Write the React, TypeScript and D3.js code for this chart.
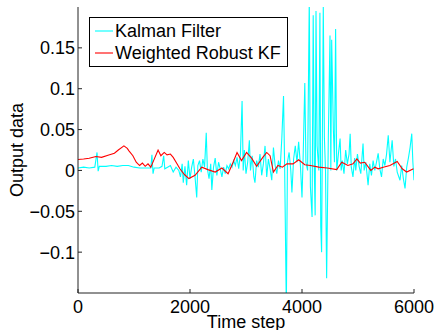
import * as d3 from 'd3';

// Kalman Filter (cyan) — time step / output
const kfTime = [
  0, 100, 200, 300, 340, 360, 380, 500, 600, 700, 800, 900, 1000, 1100, 1200, 1300, 1320, 1340, 1360, 1450,
  1500, 1530, 1550, 1600, 1650, 1700, 1750, 1800, 1830, 1860, 1880, 1910, 1940, 1970, 2000, 2030, 2060, 2090,
  2120, 2140, 2170, 2200, 2230, 2260, 2290, 2310, 2340, 2370, 2390, 2420, 2450, 2480, 2510, 2540, 2570, 2600,
  2630, 2660, 2690, 2720, 2750, 2780, 2810, 2840, 2870, 2900, 2930, 2950, 2970, 3000, 3030, 3060, 3080, 3110,
  3140, 3160, 3190, 3220, 3250, 3280, 3310, 3340, 3370, 3400, 3430, 3460, 3490, 3520, 3550, 3580, 3610, 3640,
  3670, 3690, 3720, 3740, 3770, 3800, 3820, 3850, 3880, 3910, 3940, 3970, 4000, 4020, 4050, 4070, 4100, 4130,
  4150, 4180, 4200, 4220, 4235, 4250, 4270, 4300, 4320, 4335, 4350, 4380, 4400, 4420, 4440, 4470, 4500, 4515,
  4530, 4560, 4580, 4600, 4620, 4650, 4680, 4700, 4720, 4750, 4780, 4810, 4840, 4860, 4880, 4910, 4940, 4960,
  4990, 5020, 5050, 5090, 5110, 5140, 5180, 5210, 5240, 5270, 5300, 5330, 5360, 5390, 5420, 5450, 5480, 5510,
  5540, 5570, 5610, 5640, 5670, 5700, 5750, 5780, 5810, 5840, 5870, 5900, 5930, 5960, 5980, 6000,
];
const kfValue = [
  0.003, 0.004, 0.003, 0.004, 0.022, -0.001, 0.005, 0.005, 0.006, 0.005, 0.006, 0.006, 0.004, 0.003, 0.003, 0.003, 0.019, -0.004, 0.003, 0.003,
  0.005, 0.018, 0.002, 0.004, 0.006, -0.002, 0.004, 0.0, -0.008, 0.008, -0.015, 0.005, -0.018, 0.012, -0.01, 0.004, 0.014, -0.008,
  -0.033, 0.006, 0.012, -0.002, 0.014, 0.004, 0.046, 0.002, -0.01, 0.008, -0.024, 0.004, 0.015, -0.006, 0.01, 0.002, -0.008, 0.004,
  -0.004, 0.006, 0.002, 0.008, 0.004, 0.012, 0.006, 0.016, 0.002, 0.02, 0.085, 0.0, 0.025, -0.004, 0.01, 0.037, 0.0, 0.018,
  -0.008, -0.015, 0.012, 0.004, 0.02, -0.006, 0.008, 0.03, -0.008, 0.014, 0.002, -0.012, 0.028, 0.006, -0.004, 0.012, 0.002, 0.04,
  0.091, 0.005, -0.17, 0.01, 0.022, 0.0, -0.027, 0.014, 0.03, 0.01, 0.035, 0.008, -0.033, 0.015, 0.107, 0.01, 0.0, 0.21,
  -0.02, -0.057, 0.19, 0.0, -0.055, 0.195, 0.03, 0.0, 0.193, -0.069, -0.1, 0.2, 0.04, 0.0, -0.132, 0.04, 0.165, 0.0,
  0.16, 0.05, 0.01, 0.173, 0.0, 0.02, 0.039, 0.0, 0.012, -0.004, 0.025, 0.008, 0.02, 0.045, 0.004, -0.008, 0.015, 0.0,
  0.02, 0.005, -0.004, 0.033, 0.0, 0.01, -0.018, 0.008, -0.006, 0.012, 0.0, 0.01, 0.021, 0.002, -0.008, 0.014, 0.006, 0.02,
  0.043, 0.01, 0.037, 0.005, 0.014, -0.002, -0.012, 0.006, -0.01, -0.022, 0.004, 0.015, 0.028, 0.045, 0.01, -0.012,
];

// Weighted Robust KF (red)
const wrkfTime = [
  0, 100, 200, 320, 420, 550, 650, 720, 820, 880, 910, 980, 1040, 1100, 1150, 1200, 1250, 1300, 1350, 1430,
  1480, 1540, 1590, 1650, 1700, 1760, 1820, 1900, 1980, 2090, 2210, 2320, 2450, 2570, 2680, 2770, 2840, 2920,
  3010, 3100, 3190, 3300, 3370, 3430, 3490, 3570, 3650, 3730, 3840, 3940, 4050, 4150, 4300, 4450, 4620, 4710,
  4820, 4910, 4980, 5040, 5120, 5230, 5300, 5360, 5450, 5570, 5700, 5790, 5870, 5990,
];
const wrkfValue = [
  0.0134, 0.014, 0.015, 0.017, 0.016, 0.019, 0.021, 0.025, 0.03, 0.027, 0.024, 0.018, 0.01, 0.006, 0.009, 0.005, 0.008, 0.004, 0.012, 0.025,
  0.018, 0.022, 0.019, 0.02, 0.016, 0.009, 0.002, -0.005, -0.01, -0.006, 0.004, 0.001, -0.002, 0.003, -0.004, 0.01, 0.022, 0.012,
  0.022, 0.015, 0.005, 0.016, 0.022, 0.018, -0.002, 0.006, 0.004, 0.008, 0.008, 0.013, 0.007, 0.006, 0.004, 0.003, 0.001, 0.01,
  0.006, 0.008, 0.014, 0.009, 0.01, 0.0, 0.004, 0.002, 0.004, 0.006, 0.011, 0.002, -0.002, 0.002,
];

const xTicks = [0, 2000, 4000, 6000];
const yTicks = [-0.1, -0.05, 0, 0.05, 0.1, 0.15];
const yTickLabels = ['\u22120.1', '\u22120.05', '0', '0.05', '0.1', '0.15'];
const seriesNames = ['Kalman Filter', 'Weighted Robust KF'];
const seriesColors = ['#00ffff', '#ff0000'];

const W = 437;
const H = 330;
const left = 78, right = 414, top = 7, bottom = 293;
const font = 'Liberation Sans, Arial, Helvetica, sans-serif';
const fs = 18;

export default function App() {
  const x = d3.scaleLinear().domain([0, 6000]).range([left, right]);
  const y = d3.scaleLinear().domain([-0.15, 0.2]).range([bottom, top]);

  const line = d3.line<[number, number]>()
    .x(d => x(d[0]))
    .y(d => y(d[1]));

  const kf = kfTime.map((t, i) => [t, kfValue[i]] as [number, number]);
  const wrkf = wrkfTime.map((t, i) => [t, wrkfValue[i]] as [number, number]);

  return (
    <svg width={W} height={H} style={{ position: 'absolute', left: 0, top: 0, background: '#fff' }} fontFamily={font}>
      <defs>
        <clipPath id="plot">
          <rect x={left} y={top} width={right - left} height={bottom - top} />
        </clipPath>
      </defs>

      <g clipPath="url(#plot)" fill="none">
        <path d={line(kf) ?? ''} stroke={seriesColors[0]} strokeWidth={1.1} />
        <path d={line(wrkf) ?? ''} stroke={seriesColors[1]} strokeWidth={1.1} />
      </g>

      {/* axes */}
      <line x1={left} x2={left} y1={top} y2={bottom} stroke="#222" />
      <line x1={left} x2={right} y1={bottom} y2={bottom} stroke="#222" />

      {yTicks.map((v, i) => (
        <g key={v}>
          <line x1={left} x2={left + 4} y1={y(v)} y2={y(v)} stroke="#222" />
          <text x={left - 3} y={y(v)} dy="0.36em" textAnchor="end" fontSize={fs}>
            {yTickLabels[i]}
          </text>
        </g>
      ))}
      {xTicks.map(v => (
        <g key={v}>
          <line x1={x(v)} x2={x(v)} y1={bottom} y2={bottom - 4} stroke="#222" />
          <text x={x(v)} y={313} textAnchor="middle" fontSize={fs}>
            {v}
          </text>
        </g>
      ))}

      <text x={(left + right) / 2} y={328} textAnchor="middle" fontSize={fs}>Time step</text>
      <text transform={`translate(23,${(top + bottom) / 2}) rotate(-90)`} textAnchor="middle" fontSize={fs}>
        Output data
      </text>

      {/* legend */}
      <rect x={89.5} y={17.5} width={198} height={49} fill="#fff" stroke="#000" />
      {seriesNames.map((name, i) => (
        <g key={name}>
          <line x1={95} x2={113} y1={31 + i * 22} y2={31 + i * 22} stroke={seriesColors[i]} strokeWidth={1.1} />
          <text x={115} y={37 + i * 22} fontSize={fs}>{name}</text>
        </g>
      ))}
    </svg>
  );
}
